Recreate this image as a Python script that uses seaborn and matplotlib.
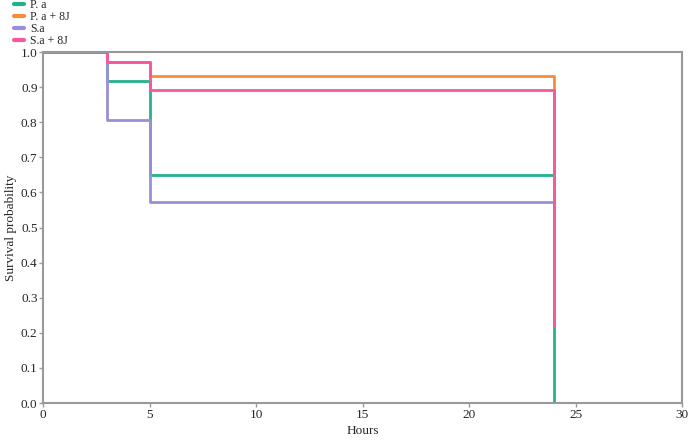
import matplotlib
matplotlib.use("Agg")
import matplotlib.pyplot as plt
import seaborn as sns
import pandas as pd

# Kaplan-Meier style survival steps
hours = [0, 3, 5, 24]
groups = ["P. a", "P. a + 8J", "S.a", "S.a + 8J"]
surv_pa = [1.0, 0.918, 0.650, 0.0]
surv_pa_8j = [1.0, 0.972, 0.932, 0.25]
surv_sa = [1.0, 0.806, 0.572, 0.25]
surv_sa_8j = [1.0, 0.972, 0.891, 0.22]
colors = ["#22b28c", "#fb8a3a", "#9a8fd4", "#f7579d"]

rows = []
for name, vals in zip(groups, [surv_pa, surv_pa_8j, surv_sa, surv_sa_8j]):
    for h, v in zip(hours, vals):
        rows.append({"Hours": h, "Survival probability": v, "group": name})
df = pd.DataFrame(rows)

sns.set_style("white")
plt.rcParams["font.family"] = ["Liberation Serif", "DejaVu Serif"]

fig = plt.figure(figsize=(6.96, 4.41), dpi=100)
ax = fig.add_axes([0.062, 0.086, 0.918, 0.796])

sns.lineplot(data=df, x="Hours", y="Survival probability", hue="group",
             palette=colors, hue_order=groups, drawstyle="steps-post",
             linewidth=2, ax=ax, legend=False, sort=False)

ax.set_xlim(0, 30)
ax.set_ylim(0, 1.0)
ax.set_xticks(range(0, 31, 5))
ax.set_yticks([i / 10 for i in range(11)])
ax.set_yticklabels([f"{i / 10:.1f}" for i in range(11)])
ax.tick_params(axis="both", labelsize=9.5, length=3, width=1, color="#999999",
               direction="out", bottom=True, left=True, pad=1)
ax.set_xlabel("Hours", fontsize=9.5, labelpad=3)
ax.set_ylabel("Survival probability", fontsize=9.5, labelpad=3)
for s in ax.spines.values():
    s.set_color("#999999")
    s.set_linewidth(1.5)

handles = [plt.Line2D([], [], color=c, linewidth=3) for c in colors]
fig.legend(handles, groups, loc="upper left", bbox_to_anchor=(0.014, 1.012),
           frameon=False, fontsize=8.5, handlelength=0.8, handletextpad=0.5,
           labelspacing=0.0, borderaxespad=0)

fig.savefig("out.png", dpi=100)
